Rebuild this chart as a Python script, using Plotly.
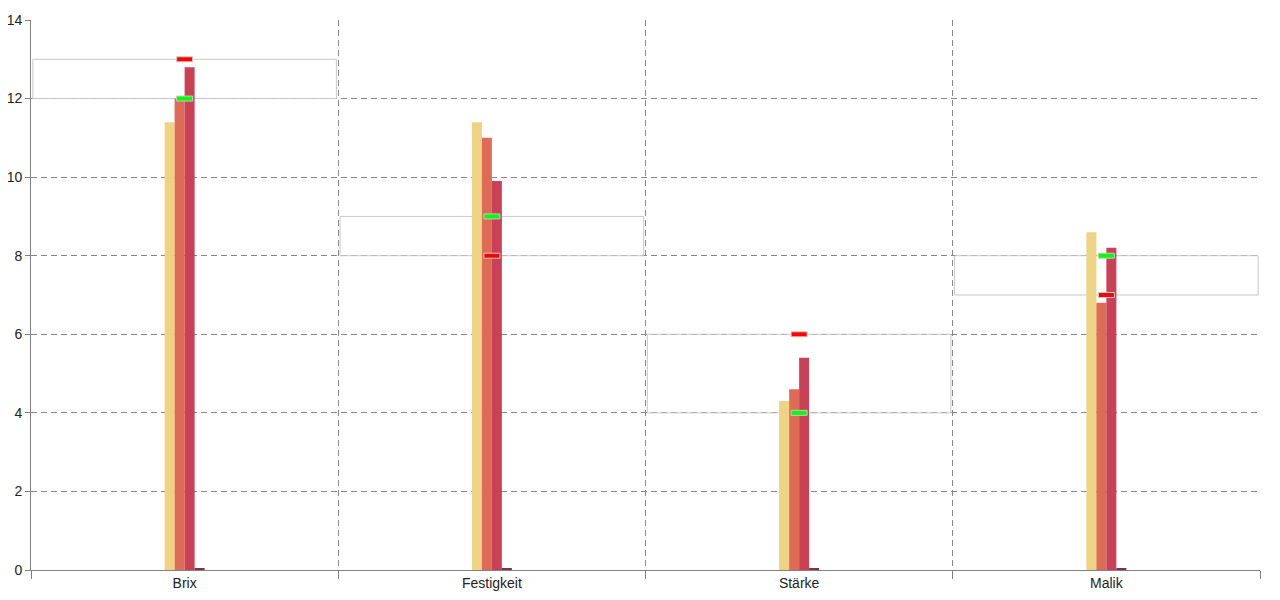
import plotly.graph_objects as go

categories = ["Brix", "Festigkeit", "Stärke", "Malik"]
series_a = [11.4, 11.4, 4.3, 8.6]
series_b = [12.0, 11.0, 4.6, 6.8]
series_c = [12.8, 9.9, 5.4, 8.2]
series_d = [0.03, 0.03, 0.03, 0.03]
target_red = [13, 8, 6, 7]
target_green = [12, 9, 4, 8]
y_ticks = [0, 2, 4, 6, 8, 10, 12, 14]

colors = ["#EDD383", "#DE6B55", "#C84157", "#7E3448"]

fig = go.Figure()
for vals, col in zip([series_a, series_b, series_c, series_d], colors):
    fig.add_trace(go.Bar(x=categories, y=vals, marker=dict(color=col, line=dict(width=0)),
                         showlegend=False, hoverinfo="y"))

inset = 0.006
shapes = []
for i, (r, g) in enumerate(zip(target_red, target_green)):
    lo, hi = min(r, g), max(r, g)
    shapes.append(dict(type="rect", xref="x", yref="y",
                       x0=i - 0.5 + inset, x1=i + 0.5 - inset,
                       y0=lo, y1=hi, line=dict(color="#C8C8C8", width=1),
                       fillcolor="rgba(0,0,0,0)", layer="between"))
    for v, c in ((r, "#FF0000"), (g, "#00FF00")):
        shapes.append(dict(type="rect", xref="x", yref="y",
                           xsizemode="pixel", ysizemode="pixel",
                           xanchor=i, yanchor=v, x0=-8, x1=8, y0=-2.5, y1=2.5,
                           fillcolor=c, line=dict(color="#C8C8C8", width=1),
                           layer="above"))

fig.update_layout(
    width=1280, height=600,
    margin=dict(l=23, r=28, t=12, b=38, autoexpand=False),
    plot_bgcolor="white", paper_bgcolor="white",
    barmode="group", bargap=0.87, bargroupgap=0,
    shapes=shapes,
    font=dict(family="Liberation Sans, Arial, sans-serif", size=13, color="#222222"),
    xaxis=dict(type="category", range=[-0.5, 3.5], tickson="boundaries",
               automargin=False,
               showgrid=True, gridcolor="#888888", griddash="6px,4px", gridwidth=1,
               showline=True, linecolor="#808080", linewidth=1,
               ticks="outside", ticklen=8, tickcolor="#808080",
               tickfont=dict(size=14, color="#222222"), zeroline=False),
    yaxis=dict(range=[0, 14], tickvals=y_ticks, automargin=False,
               showgrid=True, gridcolor="#888888", griddash="6px,4px", gridwidth=1,
               showline=True, linecolor="#808080", linewidth=1,
               ticks="outside", ticklen=5, tickcolor="#808080",
               tickfont=dict(size=14, color="#222222"), zeroline=False),
)

fig.write_html("out.html")
